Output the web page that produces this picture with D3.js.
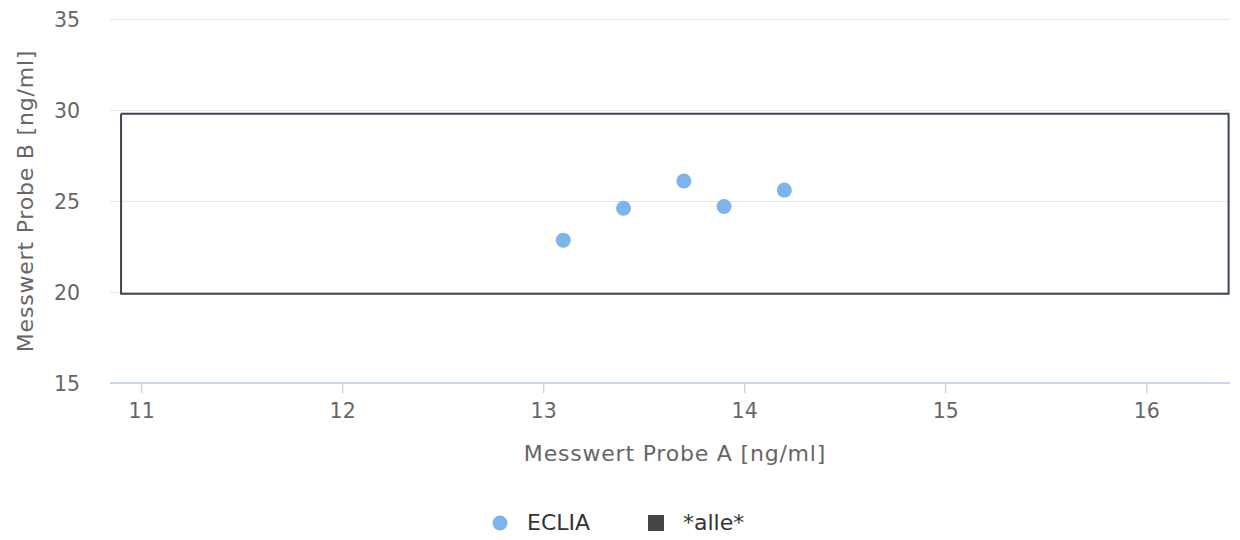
<!DOCTYPE html>
<html><head><meta charset="utf-8">
<script src="https://cdn.jsdelivr.net/npm/d3@7"></script>
<style>
html,body{margin:0;padding:0;background:#fff;}
svg{display:block;font-family:"DejaVu Sans",sans-serif;}
</style></head>
<body>
<svg id="chart" width="1240" height="540"></svg>
<script>
// Data
const seriesNames = ["ECLIA", "*alle*"];
const ecliaX = [13.1, 13.4, 13.7, 13.9, 14.2];
const ecliaY = [22.85, 24.6, 26.1, 24.7, 25.6];
const alleX = [10.9, 16.41, 16.41, 10.9, 10.9];
const alleY = [29.8, 29.8, 19.9, 19.9, 29.8];
const xTicks = [11, 12, 13, 14, 15, 16];
const yTicks = [15, 20, 25, 30, 35];
const xTitle = "Messwert Probe A [ng/ml]";
const yTitle = "Messwert Probe B [ng/ml]";

const svg = d3.select("#chart");
const pL = 110, pR = 1230, pT = 19, pB = 383;
const x = d3.scaleLinear().domain([10.845, 16.417]).range([pL, pR]);
const y = d3.scaleLinear().domain([15, 35]).range([pB, pT]);

// grid
svg.append("g").selectAll("line").data(yTicks.filter(d => d !== 15)).join("line")
  .attr("x1", pL).attr("x2", pR)
  .attr("y1", d => Math.round(y(d)) + 0.5).attr("y2", d => Math.round(y(d)) + 0.5)
  .attr("stroke", "#e6e6e6").attr("stroke-width", 1);

// y labels
svg.append("g").selectAll("text").data(yTicks).join("text")
  .attr("x", 80).attr("y", d => y(d) + 7.5)
  .attr("text-anchor", "end").attr("fill", "#666").attr("font-size", 20.5)
  .text(d => d);

// x axis
const xAxis = svg.append("g").attr("transform", `translate(0,${pB})`)
  .call(d3.axisBottom(x).tickValues(xTicks).tickSize(10).tickPadding(10).tickFormat(d3.format("d")));
xAxis.select(".domain").attr("stroke", "#ccd6eb").attr("stroke-width", 2).attr("d", `M${pL},0H${pR}`);
xAxis.selectAll(".tick line").attr("stroke", "#ccd6eb").attr("stroke-width", 1.5);
xAxis.selectAll(".tick text").attr("fill", "#666").attr("font-size", 20.5).attr("font-family", "DejaVu Sans");

// titles
svg.append("text").attr("x", (pL + pR) / 2 + 5).attr("y", 461)
  .attr("text-anchor", "middle").attr("fill", "#666").attr("font-size", 22)
  .attr("letter-spacing", 0.8).text(xTitle);
svg.append("text").attr("transform", `translate(33,${(pT + pB) / 2}) rotate(-90)`)
  .attr("text-anchor", "middle").attr("fill", "#666").attr("font-size", 22)
  .attr("letter-spacing", 0.8).text(yTitle);

// alle polygon
const line = d3.line().x(d => x(d[0])).y(d => y(d[1]));
svg.append("path").datum(alleX.map((v, i) => [v, alleY[i]]))
  .attr("d", line).attr("fill", "none").attr("stroke", "#3c4553").attr("stroke-width", 2);

// ECLIA points
svg.append("g").selectAll("circle").data(ecliaX.map((v, i) => [v, ecliaY[i]])).join("circle")
  .attr("cx", d => x(d[0])).attr("cy", d => y(d[1])).attr("r", 7.5)
  .attr("fill", "#7cb5ec");

// legend
const lg = svg.append("g");
lg.append("circle").attr("cx", 500).attr("cy", 523).attr("r", 7.5).attr("fill", "#7cb5ec");
lg.append("text").attr("x", 527).attr("y", 530).attr("fill", "#333").attr("font-size", 22).text(seriesNames[0]);
lg.append("rect").attr("x", 648).attr("y", 515).attr("width", 16).attr("height", 16).attr("fill", "#434348");
lg.append("text").attr("x", 683).attr("y", 530).attr("fill", "#333").attr("font-size", 22).text(seriesNames[1]);
</script>
</body></html>
